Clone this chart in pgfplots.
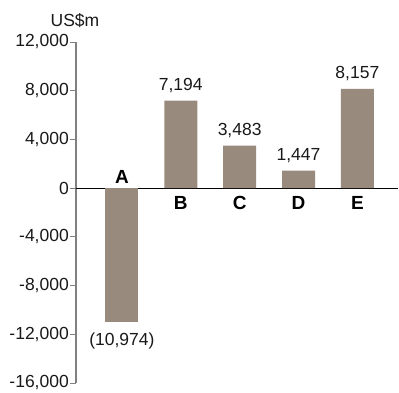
\documentclass[border=0pt]{standalone}
\usepackage{fontspec}
\setmainfont{Liberation Sans}
\usepackage{pgfplots}
\pgfplotsset{compat=1.18}
\definecolor{barc}{RGB}{152,139,125}
\definecolor{axgray}{RGB}{128,128,128}
\definecolor{txt}{RGB}{25,25,25}
\newcommand{\fn}{\fontsize{17.5}{20}\selectfont}
\newcommand{\fb}{\bfseries\fontsize{19}{22}\selectfont}
\begin{document}
\begin{tikzpicture}
\useasboundingbox (-76pt,-9pt) rectangle (323pt,383pt);
\begin{axis}[at={(0,0)}, anchor=south west, scale only axis,
  width=322pt, height=341pt,
  xmin=-0.78, xmax=4.69, ymin=-16000, ymax=12000,
  ytick={-16000,-12000,...,12000},
  scaled y ticks=false,
  axis y line*=left, axis x line=none,
  y axis line style={axgray, line width=1.3pt, -},
  ytick style={axgray, line width=1pt},
  tick align=outside, major tick length=6pt,
  yticklabel style={font=\fn, text=txt, inner sep=1pt},
  /pgf/number format/.cd, 1000 sep={,}, assume math mode=true, /pgfplots/.cd,
  clip=false,
  extra y ticks={0}, extra y tick labels={},
  extra y tick style={grid=major, major grid style={black, line width=1pt}, major tick length=0pt},
]
\addplot[ybar, bar width=33pt, bar shift=0pt, fill=barc, draw=none,
  nodes near coords, point meta=explicit symbolic,
  every node near coord/.append style={anchor=base, inner sep=0pt, yshift=-23.5pt, font=\fn, text=txt}]
  table[meta=label] {
x y label
0 -10974 (10,974)
};
\addplot[ybar, bar width=33pt, bar shift=0pt, fill=barc, draw=none,
  nodes near coords, point meta=explicit symbolic,
  every node near coord/.append style={anchor=base, inner sep=0pt, yshift=10.5pt, font=\fn, text=txt}]
  table[meta=label] {
x y label
1 7194 7,194
2 3483 3,483
3 1447 1,447
4 8157 8,157
};
\node[anchor=base, inner sep=0pt, yshift=5pt, font=\fb] at (axis cs:0,0) {A};
\node[anchor=base, inner sep=0pt, yshift=-21.5pt, font=\fb] at (axis cs:1,0) {B};
\node[anchor=base, inner sep=0pt, yshift=-21.5pt, font=\fb] at (axis cs:2,0) {C};
\node[anchor=base, inner sep=0pt, yshift=-21.5pt, font=\fb] at (axis cs:3,0) {D};
\node[anchor=base, inner sep=0pt, yshift=-21.5pt, font=\fb] at (axis cs:4,0) {E};
\node[anchor=base, inner sep=0pt, yshift=15.3pt, xshift=-1pt, font=\fn, text=txt] at (rel axis cs:0,1) {US\$m};
\end{axis}
\end{tikzpicture}
\end{document}
